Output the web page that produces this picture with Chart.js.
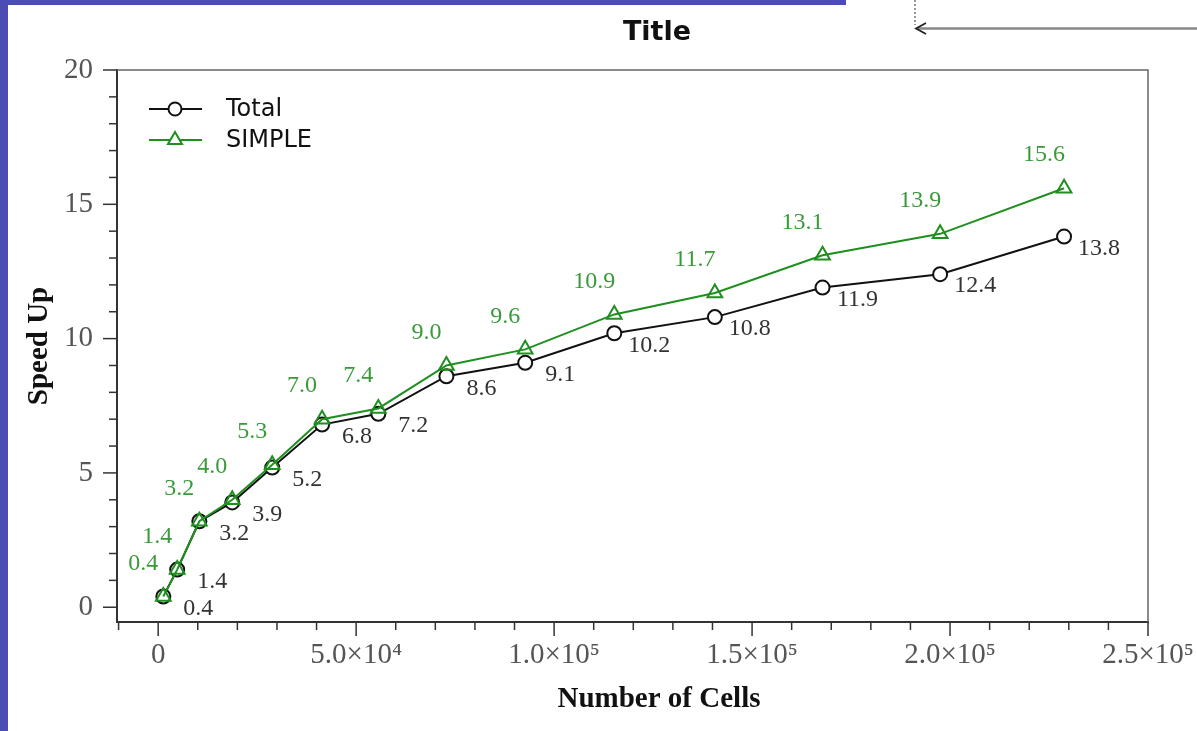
<!DOCTYPE html>
<html>
<head>
<meta charset="utf-8">
<title>Speed Up</title>
<script src="https://cdn.jsdelivr.net/npm/chart.js@4.4.1/dist/chart.umd.min.js"></script>
<style>
    html, body { margin: 0; padding: 0; background: #fff; }
    #wrap { position: relative; width: 1197px; height: 731px; overflow: hidden; }
    #speedChart { position: absolute; left: 0; top: 0; }
    .edge { position: absolute; background: #4b4db5; }
</style>
</head>
<body>
<div id="wrap">
    <canvas id="speedChart" width="1197" height="731"></canvas>
    <div class="edge" style="left:0;top:0;width:8px;height:731px;"></div>
    <div class="edge" style="left:0;top:0;width:846px;height:5px;"></div>
</div>
<script>
// number of cells per run and measured speed-ups
const cells = [1300, 4800, 10400, 18700, 28800, 41400, 55600, 72800, 92700, 115200, 140600, 167800, 197500, 228800];
const totalSpeedup = [0.4, 1.4, 3.2, 3.9, 5.2, 6.8, 7.2, 8.6, 9.1, 10.2, 10.8, 11.9, 12.4, 13.8];
const simpleSpeedup = [0.4, 1.4, 3.2, 4.0, 5.3, 7.0, 7.4, 9.0, 9.6, 10.9, 11.7, 13.1, 13.9, 15.6];

const xTickValues = [0, 50000, 100000, 150000, 200000, 250000];
const xTickLabels = ["0", "5.0×10⁴", "1.0×10⁵", "1.5×10⁵", "2.0×10⁵", "2.5×10⁵"];
const yTickValues = [0, 5, 10, 15, 20];

const BLACK = "#111111";
const GREEN = "#1f8f1f";
const SERIF = "'Liberation Serif', 'Times New Roman', serif";
const SANS = "'DejaVu Sans', sans-serif";

function toPoints(values) {
    return values.map((v, i) => ({ x: cells[i], y: v }));
}

// minor/major tick marks, plot frame, titles and the little arrow at the top
const decorations = {
    id: "decorations",
    afterDraw(chart) {
        const { ctx, chartArea: area, scales } = chart;
        ctx.save();

        // frame (top + right)
        ctx.strokeStyle = "#666";
        ctx.lineWidth = 1.5;
        ctx.beginPath();
        ctx.moveTo(area.left, area.top);
        ctx.lineTo(area.right, area.top);
        ctx.lineTo(area.right, area.bottom);
        ctx.stroke();

        // tick marks pointing out of the plot
        ctx.strokeStyle = "#333";
        ctx.lineWidth = 1.5;
        for (let v = -10000; v <= 250000; v += 10000) {
            const px = scales.x.getPixelForValue(v);
            const len = v % 50000 === 0 ? 14 : 8;
            ctx.beginPath();
            ctx.moveTo(px, area.bottom);
            ctx.lineTo(px, area.bottom + len);
            ctx.stroke();
        }
        for (let v = 0; v <= 20; v++) {
            const py = scales.y.getPixelForValue(v);
            const len = v % 5 === 0 ? 14 : 8;
            ctx.beginPath();
            ctx.moveTo(area.left, py);
            ctx.lineTo(area.left - len, py);
            ctx.stroke();
        }

        // chart title and x axis title
        ctx.fillStyle = "#111";
        ctx.textAlign = "center";
        ctx.textBaseline = "middle";
        ctx.font = "bold 27px " + SANS;
        ctx.fillText("Title", 657, 33);
        ctx.font = "bold 29px " + SERIF;
        ctx.fillText("Number of Cells", 659, 700);

        // arrow
        ctx.strokeStyle = "#999";
        ctx.lineWidth = 2;
        ctx.setLineDash([2, 2]);
        ctx.beginPath();
        ctx.moveTo(915, 0);
        ctx.lineTo(915, 25);
        ctx.stroke();
        ctx.setLineDash([]);
        ctx.strokeStyle = "#888";
        ctx.lineWidth = 2.5;
        ctx.beginPath();
        ctx.moveTo(918, 28.5);
        ctx.lineTo(1197, 28.5);
        ctx.stroke();
        ctx.strokeStyle = "#222";
        ctx.lineWidth = 1.8;
        ctx.beginPath();
        ctx.moveTo(926, 23);
        ctx.lineTo(916, 28.5);
        ctx.lineTo(926, 34);
        ctx.stroke();

        ctx.restore();
    }
};

// value labels next to each marker
const valueLabels = {
    id: "valueLabels",
    afterDatasetsDraw(chart) {
        const ctx = chart.ctx;
        ctx.save();
        ctx.font = "24px " + SERIF;
        ctx.textAlign = "center";
        ctx.textBaseline = "middle";
        chart.data.datasets.forEach((ds, di) => {
            const meta = chart.getDatasetMeta(di);
            const dx = ds.labelOffset[0];
            const dy = ds.labelOffset[1];
            ctx.fillStyle = ds.labelColor;
            meta.data.forEach((pt, i) => {
                ctx.fillText(ds.data[i].y.toFixed(1), pt.x + dx, pt.y + dy);
            });
        });
        ctx.restore();
    }
};

// legend inside the plot, top left
const insideLegend = {
    id: "insideLegend",
    afterDraw(chart) {
        const ctx = chart.ctx;
        ctx.save();
        chart.data.datasets.forEach((ds, i) => {
            const y = 109 + i * 31;
            ctx.strokeStyle = ds.borderColor;
            ctx.lineWidth = 2;
            ctx.beginPath();
            ctx.moveTo(149, y);
            ctx.lineTo(202, y);
            ctx.stroke();
            ctx.fillStyle = "#fff";
            ctx.beginPath();
            if (ds.pointStyle === "circle") {
                ctx.arc(175, y, 6.5, 0, Math.PI * 2);
            } else {
                ctx.moveTo(175, y - 8);
                ctx.lineTo(182, y + 4);
                ctx.lineTo(168, y + 4);
                ctx.closePath();
            }
            ctx.fill();
            ctx.stroke();
            ctx.fillStyle = "#111";
            ctx.font = "24px " + SANS;
            ctx.textAlign = "left";
            ctx.textBaseline = "middle";
            ctx.fillText(ds.label, 226, y + 1);
        });
        ctx.restore();
    }
};

const ctx = document.getElementById("speedChart").getContext("2d");
new Chart(ctx, {
    type: "scatter",
    data: {
        datasets: [
            {
                label: "Total",
                data: toPoints(totalSpeedup),
                showLine: true,
                borderColor: BLACK,
                borderWidth: 2,
                pointStyle: "circle",
                pointRadius: 7,
                pointBorderWidth: 2,
                pointBackgroundColor: "#fff",
                pointBorderColor: BLACK,
                labelColor: "#333",
                labelOffset: [35, 12],
                order: 1
            },
            {
                label: "SIMPLE",
                data: toPoints(simpleSpeedup),
                showLine: true,
                borderColor: GREEN,
                borderWidth: 2,
                pointStyle: "triangle",
                pointRadius: 8.5,
                pointBorderWidth: 2,
                pointBackgroundColor: "rgba(0,0,0,0)",
                pointBorderColor: GREEN,
                labelColor: "#3a9a3a",
                labelOffset: [-20, -33],
                order: 0
            }
        ]
    },
    options: {
        responsive: false,
        animation: false,
        devicePixelRatio: 1,
        layout: { padding: { left: 0, top: 70, right: 49, bottom: 0 } },
        plugins: {
            legend: { display: false },
            title: { display: false },
            tooltip: { enabled: false }
        },
        scales: {
            x: {
                type: "linear",
                min: -10400,
                max: 250000,
                afterBuildTicks: scale => {
                    scale.ticks = xTickValues.map(v => ({ value: v }));
                },
                afterFit: scale => {
                    scale.height = 109;
                    scale.paddingLeft = 0;
                    scale.paddingRight = 0;
                },
                grid: { display: false, drawTicks: false },
                border: { display: true, color: "#333", width: 2 },
                ticks: {
                    autoSkip: false,
                    maxRotation: 0,
                    padding: 16,
                    color: "#555",
                    font: { family: SERIF, size: 29 },
                    callback: (value, index) => xTickLabels[index]
                }
            },
            y: {
                type: "linear",
                min: -0.55,
                max: 20,
                afterBuildTicks: scale => {
                    scale.ticks = yTickValues.map(v => ({ value: v }));
                },
                afterFit: scale => {
                    scale.width = 117;
                    scale.paddingTop = 0;
                    scale.paddingBottom = 0;
                },
                grid: { display: false, drawTicks: false },
                border: { display: true, color: "#333", width: 2 },
                ticks: {
                    autoSkip: false,
                    padding: 24,
                    color: "#555",
                    font: { family: SERIF, size: 29 },
                    callback: value => String(value)
                },
                title: {
                    display: true,
                    text: "Speed Up",
                    color: "#111",
                    font: { family: SERIF, size: 29, weight: "bold" },
                    padding: { top: 22, bottom: 0 }
                }
            }
        }
    },
    plugins: [decorations, valueLabels, insideLegend]
});
</script>
</body>
</html>
